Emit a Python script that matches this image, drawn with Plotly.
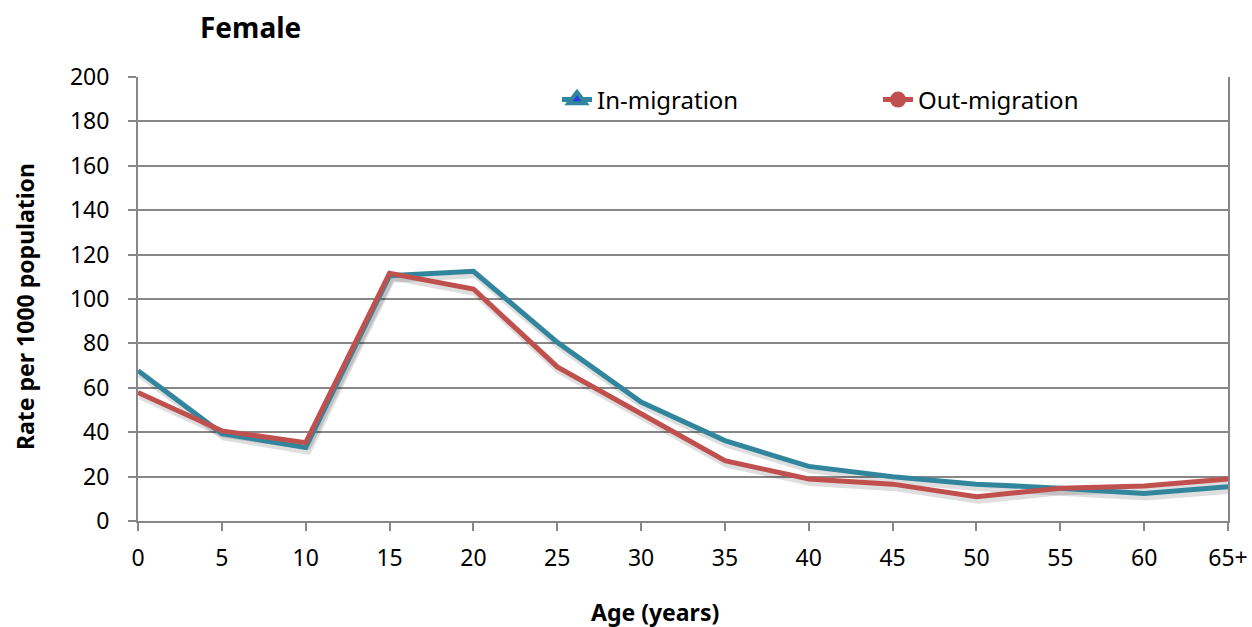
import plotly.graph_objects as go

age_labels = ["0", "5", "10", "15", "20", "25", "30", "35", "40", "45", "50", "55", "60", "65+"]
in_migration = [67.7, 39.4, 33.1, 110.5, 112.5, 80.5, 53.6, 36.2, 24.6, 19.9, 16.6, 14.8, 12.4, 15.4]
out_migration = [57.9, 40.6, 35.3, 111.6, 104.5, 69.4, 48.3, 27.2, 18.9, 16.6, 10.9, 14.8, 15.8, 18.9]

TEAL = "#31869E"
RED = "#C0504D"
GRID = "#878787"
FONT = "Noto Sans"

x_idx = list(range(len(age_labels)))
n = len(age_labels) - 1

# pixel geometry of plot area
L, R, T, B = 138, 24, 77, 106
W = 1252 - L - R
H = 627 - T - B
dx = n / W          # data units per pixel (x)
dy = 200 / H        # data units per pixel (y)
sx, sy = 2, 3       # shadow offset in pixels

fig = go.Figure()

# shadows
for vals in (in_migration, out_migration):
    fig.add_trace(go.Scatter(
        x=x_idx, y=vals, mode="lines", xaxis="x2", yaxis="y2",
        line=dict(color="rgba(0,0,0,0.13)", width=8),
        showlegend=False, hoverinfo="skip"))

# main lines
fig.add_trace(go.Scatter(
    x=x_idx, y=in_migration, mode="lines", xaxis="x3", yaxis="y3",
    line=dict(color=TEAL, width=5), showlegend=False, name="In-migration"))
fig.add_trace(go.Scatter(
    x=x_idx, y=out_migration, mode="lines", xaxis="x3", yaxis="y3",
    line=dict(color=RED, width=5), showlegend=False, name="Out-migration"))

# legend entries
fig.add_trace(go.Scatter(
    x=[None], y=[None], mode="lines+markers", name="In-migration",
    line=dict(color=TEAL, width=5),
    marker=dict(symbol="triangle-up", size=15, color="#2B3BE0",
                line=dict(color=TEAL, width=4))))
fig.add_trace(go.Scatter(
    x=[None], y=[None], mode="lines+markers", name="Out-migration",
    line=dict(color=RED, width=5),
    marker=dict(symbol="circle", size=16, color=RED)))

fig.update_layout(
    width=1252, height=627,
    margin=dict(l=L, r=R, t=T, b=B),
    paper_bgcolor="white", plot_bgcolor="white",
    font=dict(family=FONT, size=23, color="#000000"),
    title=dict(text="<b>Female</b>", x=200 / 1252, xanchor="left",
               y=1 - 28 / 627, yanchor="middle",
               font=dict(family=FONT, size=28, color="#000000")),
    showlegend=True,
    legend=dict(orientation="h", x=(557 - L) / W, xanchor="left",
                y=1 - (100 - T) / H, yanchor="middle",
                bgcolor="rgba(0,0,0,0)", font=dict(size=24),
                entrywidth=276, entrywidthmode="pixels",
                itemsizing="trace"),
    xaxis=dict(range=[0, n], tickmode="array", tickvals=x_idx,
               ticktext=age_labels, showgrid=False, zeroline=False,
               showline=True, linecolor=GRID, linewidth=2,
               ticks="outside", ticklen=8, tickwidth=2, tickcolor=GRID,
               ticklabelstandoff=7, automargin=False),
    yaxis=dict(range=[0, 200], dtick=20, showgrid=True, gridcolor=GRID,
               gridwidth=2, zeroline=False, showline=True, linecolor=GRID,
               linewidth=2, mirror=True, automargin=False,
               ticks="outside", ticklen=8, tickwidth=2, tickcolor=GRID,
               ticklabelstandoff=14),
    xaxis2=dict(range=[0 - sx * dx, n - sx * dx], overlaying="x",
                visible=False, fixedrange=True),
    yaxis2=dict(range=[0 + sy * dy, 200 + sy * dy], overlaying="y",
                visible=False, fixedrange=True),
    xaxis3=dict(range=[0, n], overlaying="x", visible=False),
    yaxis3=dict(range=[0, 200], overlaying="y", visible=False),
    annotations=[
        dict(text="<b>Age (years)</b>", xref="paper", yref="paper",
             x=(655 - L) / W, y=-(612 - (T + H)) / H,
             xanchor="center", yanchor="middle", showarrow=False,
             font=dict(family=FONT, size=23, color="#000000")),
        dict(text="<b>Rate per 1000 population</b>", xref="paper", yref="paper",
             x=-(L - 25) / W, y=1 - (307 - T) / H, textangle=-90,
             xanchor="center", yanchor="middle", showarrow=False,
             font=dict(family=FONT, size=23, color="#000000")),
    ],
)

fig.write_html("out.html")
